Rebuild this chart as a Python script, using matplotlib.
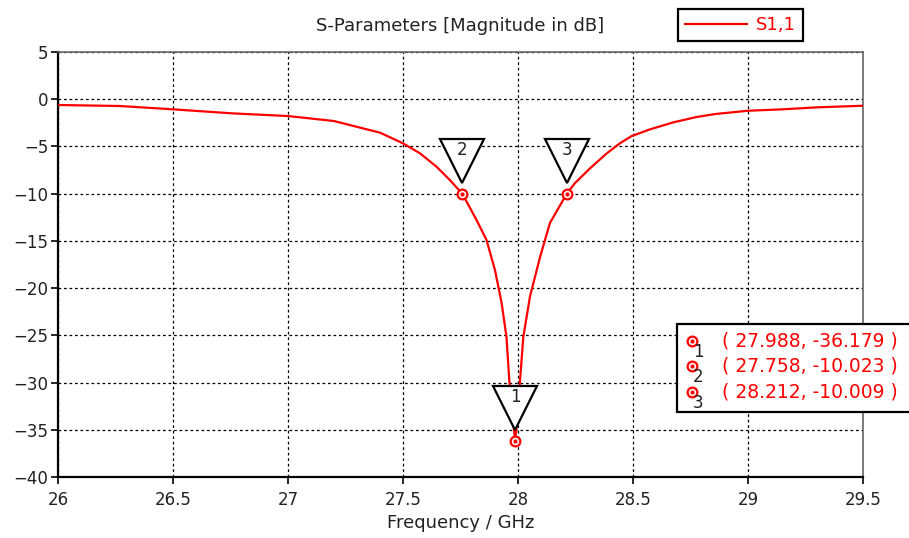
import matplotlib
matplotlib.use("Agg")
import matplotlib.pyplot as plt
import matplotlib.transforms as mtransforms
from matplotlib.patches import Rectangle

# S1,1 curve (GHz, dB)
freq = [26.0, 26.27, 26.5, 26.76, 27.0, 27.2, 27.4, 27.5, 27.574, 27.646,
        27.704, 27.758, 27.82, 27.863, 27.9, 27.929, 27.95, 27.962, 27.975,
        27.988, 28.0, 28.009, 28.023, 28.052, 28.096, 28.139, 28.212, 28.247,
        28.313, 28.386, 28.443, 28.494, 28.574, 28.675, 28.777, 28.86, 29.0,
        29.15, 29.3, 29.5]
s11 = [-0.61, -0.72, -1.07, -1.5, -1.78, -2.31, -3.54, -4.67, -5.73, -7.15,
       -8.56, -10.023, -12.8, -14.9, -18.1, -21.6, -25.2, -29.7, -33.5,
       -36.179, -33.0, -29.7, -25.2, -20.9, -16.7, -13.1, -10.009, -8.9,
       -7.32, -5.73, -4.67, -3.9, -3.19, -2.45, -1.88, -1.56, -1.22,
       -1.07, -0.86, -0.69]

# markers
mark_id = ["1", "2", "3"]
mark_f = [27.988, 27.758, 28.212]
mark_v = [-36.179, -10.023, -10.009]

xticks = [26, 26.5, 27, 27.5, 28, 28.5, 29, 29.5]
xtick_labels = ["26", "26.5", "27", "27.5", "28", "28.5", "29", "29.5"]
yticks = [5, 0, -5, -10, -15, -20, -25, -30, -35, -40]

red = "#ff0000"
txt = "#222222"

fig = plt.figure(figsize=(9.09, 5.38), dpi=100)
ax = fig.add_axes([58 / 909, 1 - 477 / 538, (863 - 58) / 909, (477 - 52) / 538])

ax.plot(freq, s11, color=red, lw=1.6, label="S1,1", zorder=3)

ax.set_xlim(26, 29.5)
ax.set_ylim(-40, 5)
ax.set_xticks(xticks)
ax.set_xticklabels(xtick_labels)
ax.set_yticks(yticks)
ax.grid(True, color="black", linestyle=(0, (2.2, 2.2)), lw=0.9)

for side in ["left", "bottom"]:
    ax.spines[side].set_linewidth(1.6)
    ax.spines[side].set_color("black")
for side in ["top", "right"]:
    ax.spines[side].set_linewidth(1.2)
    ax.spines[side].set_color("#666666")
ax.tick_params(axis="both", direction="out", length=5, width=1.2,
               labelsize=12, labelcolor=txt, pad=2)
ax.tick_params(axis="x", pad=5)

ax.set_title("S-Parameters [Magnitude in dB]", fontsize=13, color=txt, pad=15)
ax.set_xlabel("Frequency / GHz", fontsize=13, color=txt, labelpad=4)

# marker triangles above each marker
for mid, f, v in zip(mark_id, mark_f, mark_v):
    tri = mtransforms.offset_copy(ax.transData, fig=fig, x=0, y=33, units="dots")
    ax.plot([f], [v], marker="v", ms=32, mfc="white", mec="black", mew=1.6,
            transform=tri, zorder=4, clip_on=False)
    lab = mtransforms.offset_copy(ax.transData, fig=fig, x=0, y=44, units="dots")
    ax.text(f, v, mid, transform=lab, ha="center", va="center",
            fontsize=12, color=txt, zorder=5)
    ax.plot([f], [v], marker="o", ms=7, mfc="white", mec=red, mew=1.6,
            zorder=6, clip_on=False)
    ax.plot([f], [v], marker="o", ms=2, color=red, zorder=7, clip_on=False)

leg = ax.legend(loc="upper left", bbox_to_anchor=(678 / 909, 1 - 9 / 538),
                bbox_transform=fig.transFigure, borderaxespad=0,
                fancybox=False, handlelength=3.4, handletextpad=0.5,
                fontsize=13, borderpad=0.4, framealpha=1)
leg.get_frame().set_edgecolor("black")
leg.get_frame().set_linewidth(1.6)
for t in leg.get_texts():
    t.set_color(red)

# marker value table
box = Rectangle((677 / 909, 1 - 412 / 538), 240 / 909, 88 / 538,
                transform=fig.transFigure, facecolor="white",
                edgecolor="black", lw=1.6, zorder=10, clip_on=False)
fig.add_artist(box)
rows_y = [341, 366, 392]
for mid, f, v, py in zip(mark_id, mark_f, mark_v, rows_y):
    yy = 1 - py / 538
    fig.add_artist(plt.Line2D([692 / 909], [yy], marker="o", ms=7, mfc="white",
                              mec=red, mew=1.6, transform=fig.transFigure, zorder=11))
    fig.add_artist(plt.Line2D([692 / 909], [yy], marker="o", ms=2, color=red,
                              transform=fig.transFigure, zorder=12))
    fig.text(698 / 909, yy - 11 / 538, mid, fontsize=12, color=txt,
             ha="center", va="center", zorder=12)
    fig.text(722 / 909, yy, "( %.3f, %.3f )" % (f, v), fontsize=13.5,
             color=red, ha="left", va="center", zorder=12)

fig.savefig("out.png", dpi=100)
